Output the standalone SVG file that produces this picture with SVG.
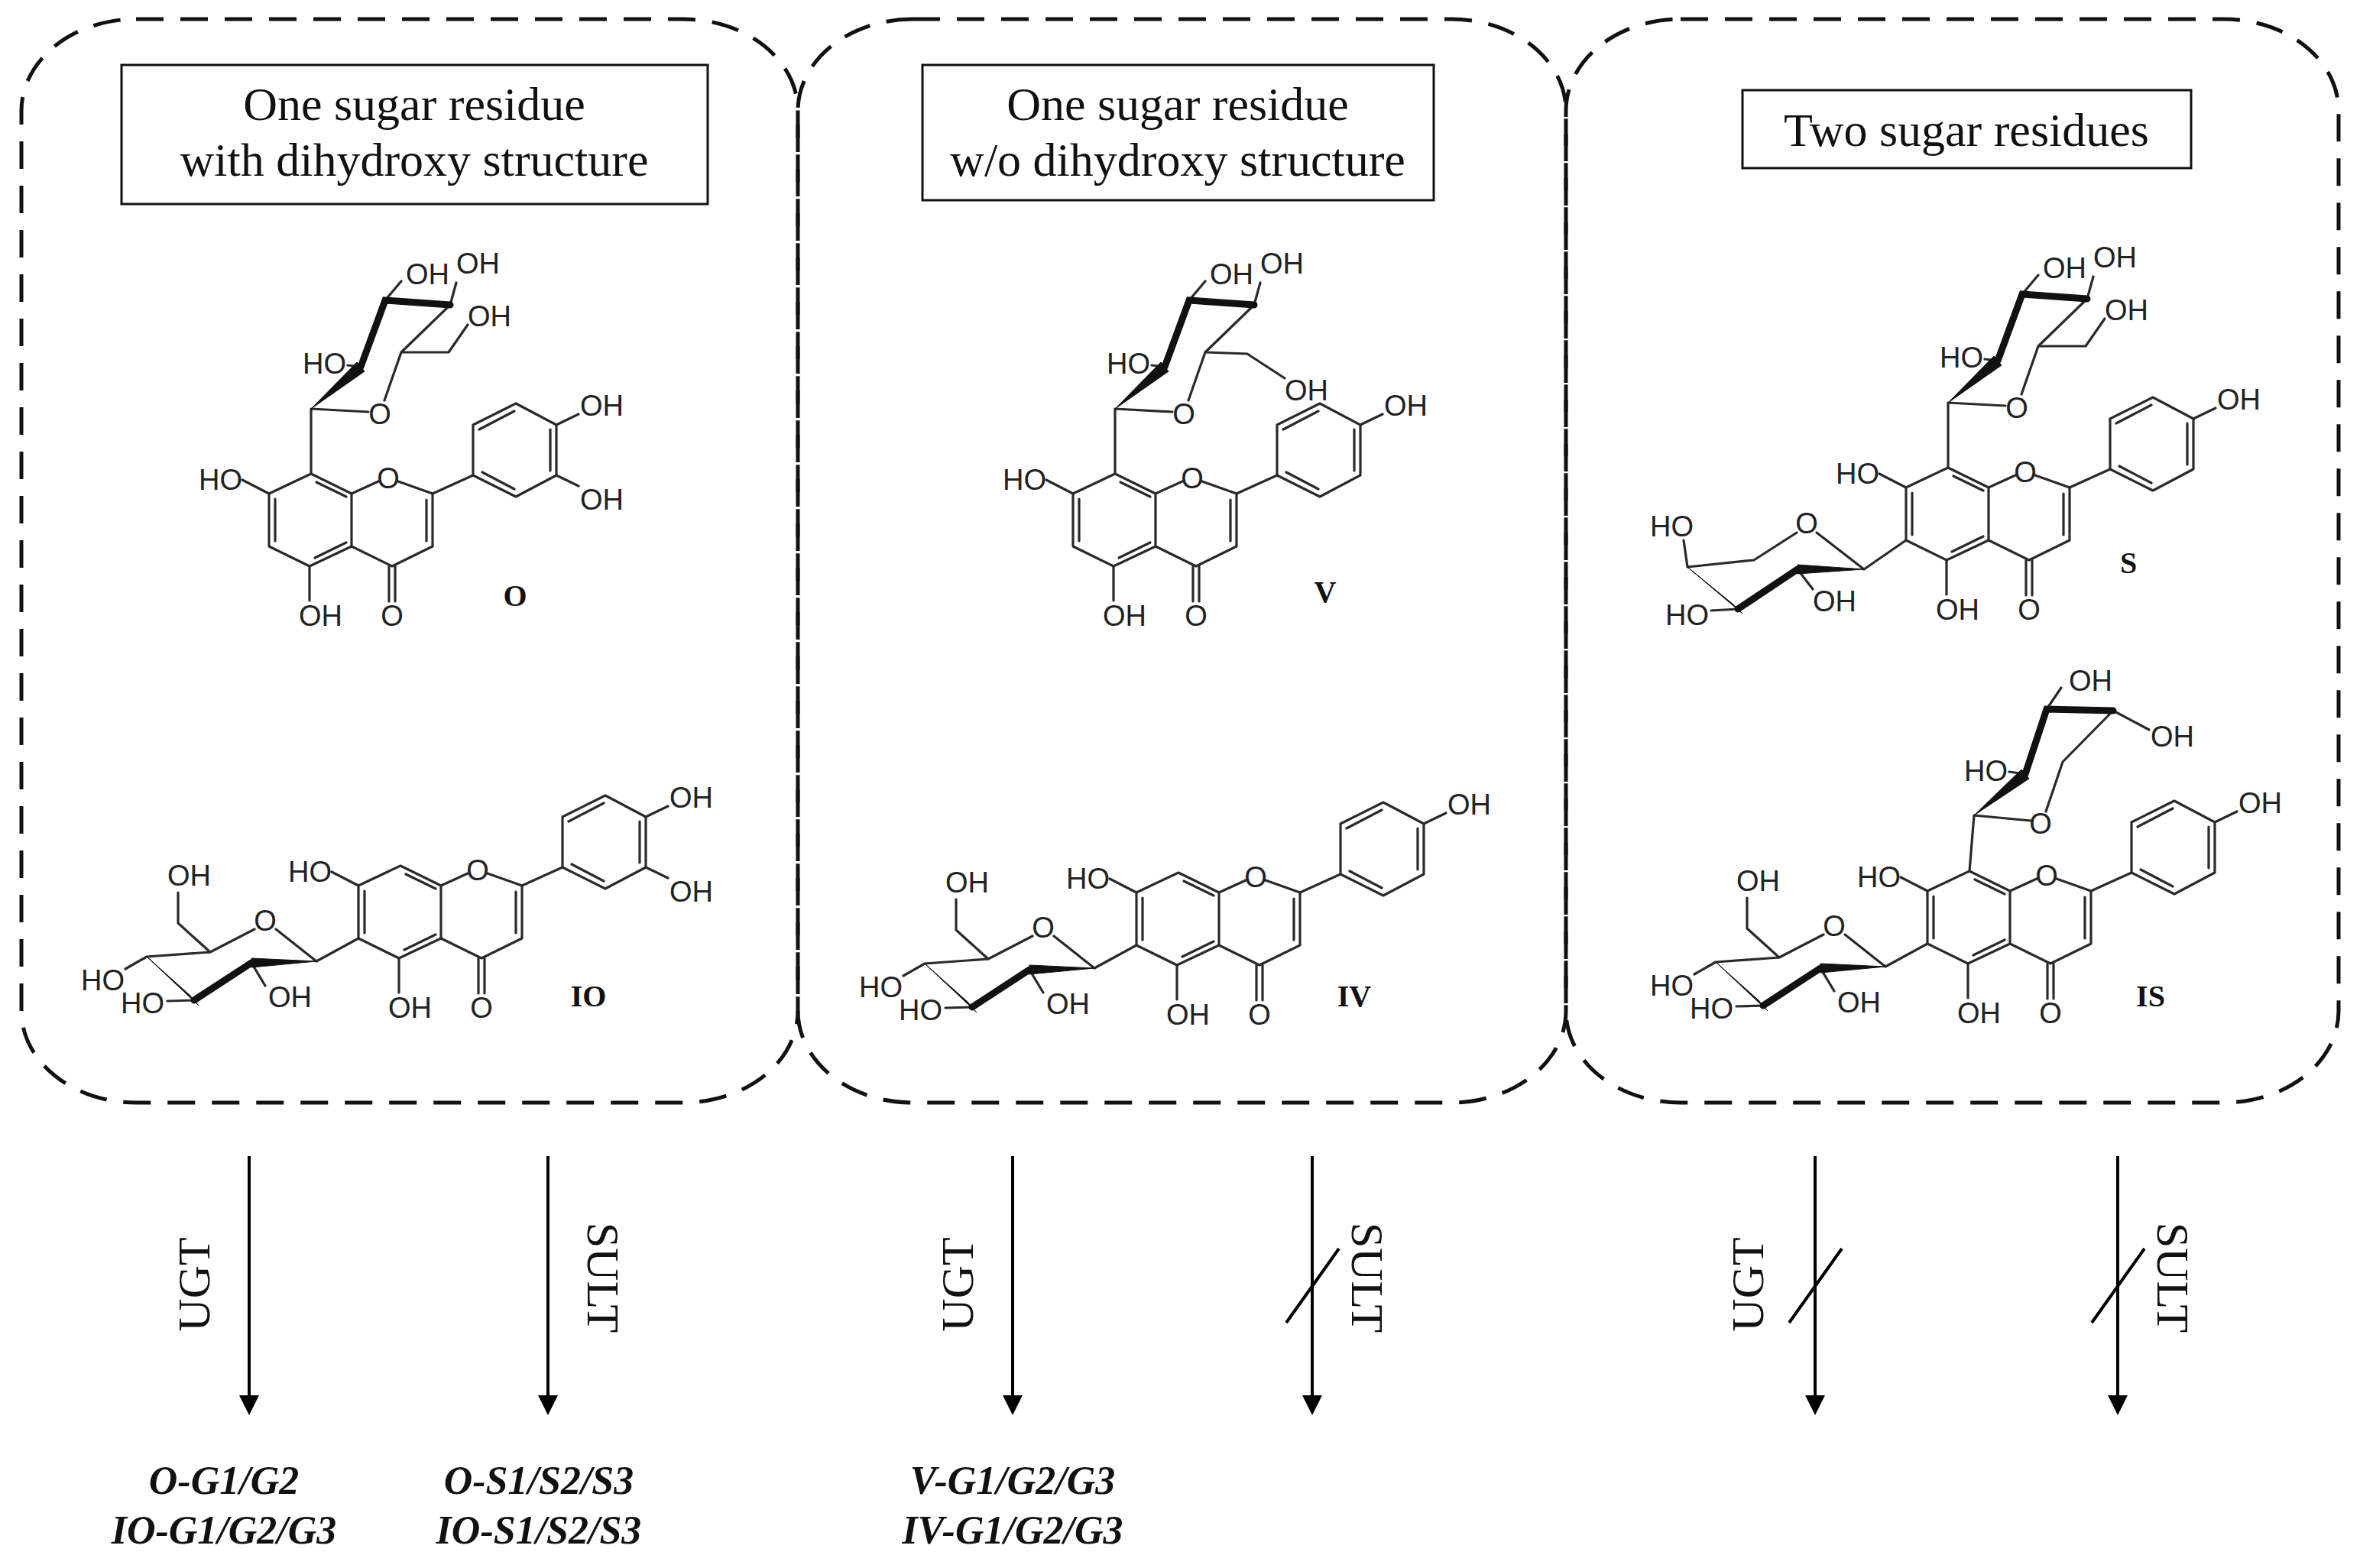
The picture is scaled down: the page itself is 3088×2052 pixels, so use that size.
<svg xmlns="http://www.w3.org/2000/svg" xmlns:xlink="http://www.w3.org/1999/xlink" width="3088" height="2052" viewBox="0 0 3088 2052">
<style>
.b{fill:none;stroke:#2a2a2a;stroke-width:3.2;stroke-linecap:round;stroke-linejoin:round}
.k{fill:none;stroke:#111;stroke-width:9;stroke-linecap:round}
.w{fill:#111;stroke:#111;stroke-width:1}
.a{font-family:"Liberation Sans",Arial,sans-serif;font-size:38px;fill:#222}
.e{text-anchor:end}.m{text-anchor:middle}
.lab{font-family:"Liberation Serif","Times New Roman",serif;font-size:40px;font-weight:bold;fill:#111;text-anchor:middle}
.panel{fill:none;stroke:#111;stroke-width:5;stroke-dasharray:36 22}
.hbox{fill:#fff;stroke:#111;stroke-width:3}
.ht{font-family:"Liberation Serif","Times New Roman",serif;font-size:62px;fill:#111;text-anchor:middle}
.arr{stroke:#000;stroke-width:4;fill:none}
.en{font-family:"Liberation Serif","Times New Roman",serif;font-size:60px;fill:#111;text-anchor:middle}
.pr{font-family:"Liberation Serif","Times New Roman",serif;font-size:52px;font-style:italic;font-weight:bold;fill:#111;text-anchor:middle}
</style>
<defs>
<marker id="ah" viewBox="0 0 26 26" refX="0" refY="13" markerWidth="26" markerHeight="26" markerUnits="userSpaceOnUse" orient="auto"><path d="M0,0 L26,13 L0,26 Z" fill="#000"/></marker>
<g id="core" class="b">
<path d="M0,0 L-55,26 L-55,95 L-2,121 L53,95 L53,26 Z"/>
<path d="M-47,33 L-47,88 M5,110 L46,90 M7,11 L46,30"/>
<path d="M53,26 L88,10 M114,10 L159,26 L159,95 L106,121 L53,95 M151,34 L151,88"/>
<path d="M102,121 L102,167 M110,121 L110,167"/>
<path d="M-55,26 L-90,8 M-2,121 L-2,166 M159,26 L212,2"/>
<path d="M212,2 L212,-64 L268,-92 L321,-64 L321,2 L268,30 Z M220,-58 L266,-82 M313,-58 L313,-4 M224,-2 L266,20"/>
<path d="M321,-64 L350,-78"/>
</g>
<g id="glcTop">
<path class="b" d="M0,0 L0,-85 L75,-81 M96,-96 L118,-159 L182,-221 M65,-140 L48,-142 M97,-227 L118,-252 M182,-221 L190,-250"/>
<path class="k" d="M182,-221 L97,-227 L65,-140"/>
<polygon class="w" points="0,-85 60,-146 70,-134"/>
</g>
<g id="pentTop">
<path class="b" d="M0,0 L6,-73 L80,-66 M100,-78 L122,-143 L188,-210 M188,-210 L235,-185 M101,-212 L120,-240 M73,-127 L52,-130"/>
<path class="k" d="M188,-210 L101,-212 L73,-127"/>
<polygon class="w" points="6,-73 68,-133 78,-121"/>
</g>
<g id="glc6">
<path class="b" d="M0,0 L-55,30 L-108,-12 M-136,-12 L-194,18 L-236,-20 L-236,-60 M-194,18 L-277,24 L-305,40 M-215,81 L-250,82 M-140,32 L-122,62"/>
<path class="k" d="M-215,81 L-140,32"/>
<polygon class="w" points="-277,24 -221,74 -209,88"/>
<polygon class="w" points="-55,30 -140,26 -140,38"/>
</g>
<g id="pent6">
<path class="b" d="M0,0 L-55,38 L-117,-10 M-143,-10 L-199,26 L-286,35 L-291,0 M-220,90 L-255,92 M-142,38 L-122,64"/>
<path class="k" d="M-220,90 L-142,38"/>
<polygon class="w" points="-286,35 -226,84 -214,96"/>
<polygon class="w" points="-55,38 -142,32 -142,44"/>
</g>
</defs>
<rect width="3088" height="2052" fill="#fff"/>

<g id="panel1">
<rect class="panel" x="28" y="25" width="1016" height="1418" rx="150" ry="120"/>
<rect class="hbox" x="159" y="85" width="767" height="182"/>
<text class="ht" x="542" y="157">One sugar residue</text>
<text class="ht" x="542" y="230">with dihydroxy structure</text>
</g>
<g id="panel2">
<rect class="panel" x="1044" y="25" width="1005" height="1418" rx="150" ry="120"/>
<rect class="hbox" x="1207" y="85" width="669" height="177"/>
<text class="ht" x="1541" y="157">One sugar residue</text>
<text class="ht" x="1541" y="230">w/o dihydroxy structure</text>
</g>
<g id="panel3">
<rect class="panel" x="2049" y="25" width="1011" height="1418" rx="150" ry="120"/>
<rect class="hbox" x="2280" y="118" width="587" height="102"/>
<text class="ht" x="2573" y="191">Two sugar residues</text>
</g>

<g id="mol-O" transform="translate(407,620)">
<use xlink:href="#core" href="#core"/><use xlink:href="#glcTop" href="#glcTop"/>
<path class="b" d="M118,-159 L180,-159 L205,-195 M321,2 L350,16"/>
<text class="a m" x="101" y="19">O</text><text class="a m" x="106" y="199">O</text>
<text class="a" x="-16" y="199">OH</text><text class="a e" x="-90" y="21">HO</text>
<text class="a" x="352" y="-76">OH</text><text class="a" x="352" y="47">OH</text>
<text class="a m" x="90" y="-65">O</text><text class="a e" x="46" y="-131">HO</text>
<text class="a" x="124" y="-248">OH</text><text class="a" x="190" y="-262">OH</text><text class="a" x="205" y="-193">OH</text>
<text class="lab" x="267" y="173">O</text>
</g>

<g id="mol-IO" transform="translate(524,1133)">
<use xlink:href="#core" href="#core"/>
<path class="b" d="M321,2 L350,16"/>
<text class="a m" x="101" y="19">O</text><text class="a m" x="106" y="199">O</text>
<text class="a" x="-16" y="199">OH</text><text class="a e" x="-90" y="21">HO</text>
<text class="a" x="352" y="-76">OH</text><text class="a" x="352" y="47">OH</text>
<g transform="translate(-55,95)">
<use xlink:href="#glc6" href="#glc6"/>
<text class="a m" x="-122" y="-10">O</text><text class="a" x="-250" y="-69">OH</text>
<text class="a e" x="-306" y="68">HO</text><text class="a e" x="-254" y="98">HO</text><text class="a" x="-118" y="90">OH</text>
</g>
<text class="lab" x="246" y="184">IO</text>
</g>

<g id="mol-V" transform="translate(1459,620)">
<use xlink:href="#core" href="#core"/><use xlink:href="#glcTop" href="#glcTop"/>
<path class="b" d="M118,-159 L173,-157 L222,-125"/>
<text class="a m" x="101" y="19">O</text><text class="a m" x="106" y="199">O</text>
<text class="a" x="-16" y="199">OH</text><text class="a e" x="-90" y="21">HO</text>
<text class="a" x="352" y="-76">OH</text>
<text class="a m" x="90" y="-65">O</text><text class="a e" x="46" y="-131">HO</text>
<text class="a" x="124" y="-248">OH</text><text class="a" x="190" y="-262">OH</text><text class="a" x="222" y="-96">OH</text>
<text class="lab" x="275" y="168">V</text>
</g>

<g id="mol-IV" transform="translate(1542,1142)">
<use xlink:href="#core" href="#core"/>
<text class="a m" x="101" y="19">O</text><text class="a m" x="106" y="199">O</text>
<text class="a" x="-16" y="199">OH</text><text class="a e" x="-90" y="21">HO</text>
<text class="a" x="352" y="-76">OH</text>
<g transform="translate(-55,95)">
<use xlink:href="#glc6" href="#glc6"/>
<text class="a m" x="-122" y="-10">O</text><text class="a" x="-250" y="-69">OH</text>
<text class="a e" x="-306" y="68">HO</text><text class="a e" x="-254" y="98">HO</text><text class="a" x="-118" y="90">OH</text>
</g>
<text class="lab" x="230" y="175">IV</text>
</g>

<g id="mol-S" transform="translate(2549,612)">
<use xlink:href="#core" href="#core"/><use xlink:href="#glcTop" href="#glcTop"/>
<path class="b" d="M118,-159 L180,-159 L205,-195"/>
<text class="a m" x="101" y="19">O</text><text class="a m" x="106" y="199">O</text>
<text class="a" x="-16" y="199">OH</text><text class="a e" x="-90" y="21">HO</text>
<text class="a" x="352" y="-76">OH</text>
<text class="a m" x="90" y="-65">O</text><text class="a e" x="46" y="-131">HO</text>
<text class="a" x="124" y="-248">OH</text><text class="a" x="190" y="-262">OH</text><text class="a" x="205" y="-193">OH</text>
<g transform="translate(-55,95)">
<use xlink:href="#pent6" href="#pent6"/>
<text class="a m" x="-130" y="-9">O</text><text class="a e" x="-278" y="-5">HO</text>
<text class="a e" x="-258" y="111">HO</text><text class="a" x="-122" y="93">OH</text>
</g>
<text class="lab" x="236" y="138">S</text>
</g>

<g id="mol-IS" transform="translate(2577,1140)">
<use xlink:href="#core" href="#core"/><use xlink:href="#pentTop" href="#pentTop"/>
<text class="a m" x="101" y="19">O</text><text class="a m" x="106" y="199">O</text>
<text class="a" x="-16" y="199">OH</text><text class="a e" x="-90" y="21">HO</text>
<text class="a" x="352" y="-76">OH</text>
<text class="a m" x="93" y="-49">O</text><text class="a" x="237" y="-163">OH</text>
<text class="a" x="130" y="-236">OH</text><text class="a e" x="50" y="-118">HO</text>
<g transform="translate(-55,95)">
<use xlink:href="#glc6" href="#glc6"/>
<text class="a m" x="-122" y="-10">O</text><text class="a" x="-250" y="-69">OH</text>
<text class="a e" x="-306" y="68">HO</text><text class="a e" x="-254" y="98">HO</text><text class="a" x="-118" y="90">OH</text>
</g>
<text class="lab" x="237" y="177">IS</text>
</g>

<g id="connectors">
<line class="arr" x1="326" y1="1513" x2="326" y2="1826" marker-end="url(#ah)"/>
<line class="arr" x1="717" y1="1513" x2="717" y2="1826" marker-end="url(#ah)"/>
<line class="arr" x1="1325" y1="1513" x2="1325" y2="1826" marker-end="url(#ah)"/>
<line class="arr" x1="1717" y1="1513" x2="1717" y2="1826" marker-end="url(#ah)"/>
<line class="arr" x1="2375" y1="1513" x2="2375" y2="1826" marker-end="url(#ah)"/>
<line class="arr" x1="2771" y1="1513" x2="2771" y2="1826" marker-end="url(#ah)"/>
<path class="arr" d="M1683,1731 L1752,1634 M2341,1731 L2410,1634 M2737,1731 L2806,1634" stroke-width="3"/>
<text class="en" transform="translate(274,1681) rotate(-90)">UGT</text>
<text class="en" transform="translate(769,1672) rotate(90)">SULT</text>
<text class="en" transform="translate(1273,1681) rotate(-90)">UGT</text>
<text class="en" transform="translate(1769,1672) rotate(90)">SULT</text>
<text class="en" transform="translate(2307,1681) rotate(-90)">UGT</text>
<text class="en" transform="translate(2823,1672) rotate(90)">SULT</text>
</g>
<g id="products">
<text class="pr" x="293" y="1955">O-G1/G2</text>
<text class="pr" x="293" y="2020">IO-G1/G2/G3</text>
<text class="pr" x="705" y="1955">O-S1/S2/S3</text>
<text class="pr" x="705" y="2020">IO-S1/S2/S3</text>
<text class="pr" x="1325" y="1955">V-G1/G2/G3</text>
<text class="pr" x="1325" y="2020">IV-G1/G2/G3</text>
</g>
</svg>
